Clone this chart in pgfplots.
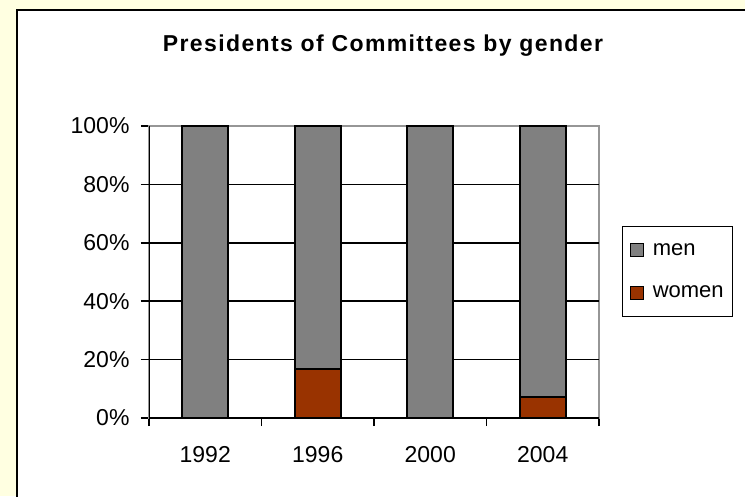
\documentclass[border=0pt]{standalone}
\usepackage{fontspec}
\setmainfont{Liberation Sans}
\newfontfamily\titlefont[LetterSpace=6]{Liberation Sans}
\usepackage{pgfplots}
\pgfplotsset{compat=1.18}
\definecolor{bgyellow}{RGB}{255,255,225}
\definecolor{mengray}{RGB}{128,128,128}
\definecolor{womenred}{RGB}{153,51,0}
\definecolor{framegray}{RGB}{150,150,150}

\begin{document}
\begin{tikzpicture}
\useasboundingbox (0pt,0pt) rectangle (745pt,496pt);
\fill[bgyellow] (0pt,0pt) rectangle (745pt,496pt);
\draw[black,line width=2pt,fill=white] (17pt,-20pt) rectangle (790pt,486pt);
\node[anchor=base,inner sep=0pt,font=\titlefont\bfseries\fontsize{23}{28}\selectfont]
  at (383pt,444pt) {Presidents of Committees by gender};
\begin{axis}[
  at={(149pt,78pt)}, anchor=south west,
  scale only axis, width=450pt, height=292pt,
  ybar stacked, bar width=46pt,
  xmin=-0.5, xmax=3.5, ymin=0, ymax=100,
  xtick={0,1,2,3}, xticklabels={1992,1996,2000,2004},
  minor xtick={-0.5,0.5,1.5,2.5,3.5},
  ytick={0,20,40,60,80,100},
  yticklabels={0\%,20\%,40\%,60\%,80\%,100\%},
  xtick pos=left, ytick pos=left,
  tick align=outside, major tick length=8pt, minor tick length=8pt,
  tick style={black, line width=1.6pt},
  minor tick style={black, line width=1.6pt},
  major x tick style={draw=none},
  axis line style={framegray, line width=1.6pt},
  extra y ticks={20,40,60,80}, extra y tick labels={,,,},
  extra y tick style={grid=major},
  major grid style={black, line width=1.6pt},
  tick label style={font=\fontsize{23}{27}\selectfont},
  yticklabel style={xshift=-8pt},
  xticklabel style={yshift=-17pt},
  legend style={at={(axis description cs:1.0511,0.6575)}, anchor=north west,
    draw=black, line width=1.2pt, font=\fontsize{22}{26}\selectfont,
    inner xsep=7pt, inner ysep=15pt, row sep=25pt, column sep=7pt},
  legend cell align=left,
  reverse legend,
  legend image code/.code={\draw[#1,draw=black,line width=1.2pt] (0pt,-6.5pt) rectangle (13pt,6.5pt);},
]
\addplot[fill=womenred, draw=black, line width=1.8pt] coordinates {(0,0) (1,16.7) (2,0) (3,7.1)};
\addplot[fill=mengray, draw=black, line width=1.8pt] coordinates {(0,100) (1,83.3) (2,100) (3,92.9)};
\legend{women\hspace{10pt},men}
\draw[black,line width=1.6pt] (rel axis cs:0,1) -- (rel axis cs:0,0) -- (rel axis cs:1,0);
\end{axis}
\end{tikzpicture}
\end{document}
